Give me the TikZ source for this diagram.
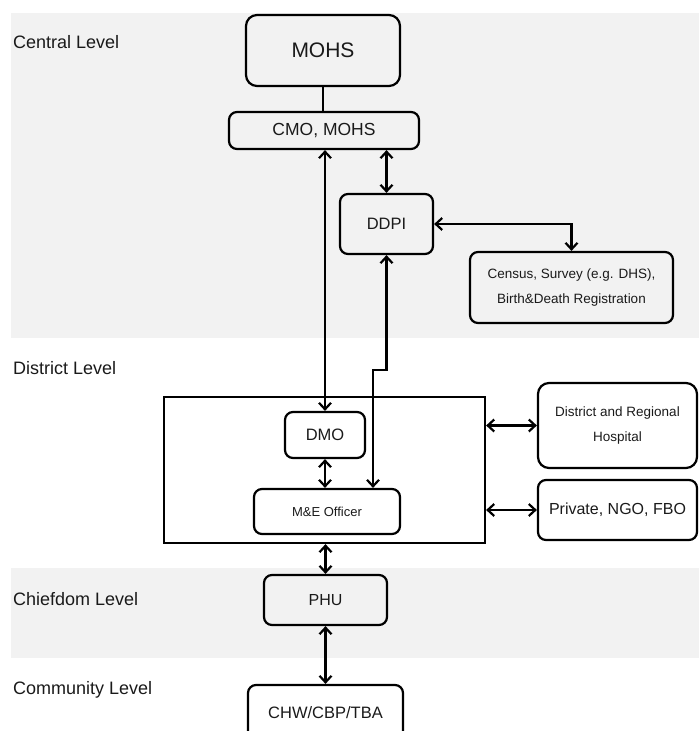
\documentclass[tikz,border=0pt]{standalone}
\usepackage{fontspec}
\setmainfont{Liberation Sans}
\usetikzlibrary{arrows.meta}
\definecolor{band}{HTML}{F2F2F2}
\definecolor{ink}{HTML}{1A1A1A}
\begin{document}
\begin{tikzpicture}[x=1pt,y=-1pt,
  box/.style={draw=black, line width=2.2pt, rounded corners=8pt, align=center, text=ink, inner sep=0pt},
  dbl/.style={{Straight Barb[length=6.5pt,width=12pt]}-{Straight Barb[length=6.5pt,width=12pt]}, line width=2.2pt},
  plain/.style={line width=2.2pt},
  lvl/.style={anchor=base west, font=\fontsize{18}{20}\selectfont, text=ink, inner sep=0pt}]
\useasboundingbox (0,0) rectangle (699,731);
% bands
\fill[band] (11,13) rectangle (699,338);
\fill[band] (11,568) rectangle (699,658);
% level labels
\node[lvl] (lc) at (13,48) {Central Level};
\node[lvl] (ld) at (13,374) {District Level};
\node[lvl] (lh) at (13,605) {Chiefdom Level};
\node[lvl] (lm) at (13,694) {Community Level};
% nodes
\node[box, rounded corners=11pt, minimum width=154pt, minimum height=71pt, font=\fontsize{21}{24}\selectfont] (mohs) at (323,50.5) {MOHS};
\node[box, minimum width=190pt, minimum height=37pt, font=\fontsize{17.5}{20}\selectfont] (cmo) at (324,130.5) {CMO, MOHS};
\node[box, minimum width=93pt, minimum height=60pt, font=\fontsize{16.5}{20}\selectfont] (ddpi) at (386.5,224) {DDPI};
\node[box, minimum width=203pt, minimum height=71pt, font=\fontsize{13.5}{25}\selectfont] (census) at (571.5,287.5) {Census, Survey (e.g. DHS),\\Birth\&Death Registration};
\node[draw=black, line width=2.2pt, minimum width=321pt, minimum height=146pt, inner sep=0pt] (big) at (324.5,470) {};
\node[box, minimum width=80pt, minimum height=46pt, font=\fontsize{16.5}{20}\selectfont] (dmo) at (325,435) {DMO};
\node[box, minimum width=146pt, minimum height=45pt, font=\fontsize{13}{16}\selectfont] (me) at (327,511.5) {M\&E Officer};
\node[box, rounded corners=11pt, minimum width=159pt, minimum height=85pt, font=\fontsize{13.5}{25}\selectfont] (hosp) at (617.5,425.5) {District and Regional\\Hospital};
\node[box, minimum width=159pt, minimum height=60pt, font=\fontsize{16}{20}\selectfont] (priv) at (617.5,510) {Private, NGO, FBO};
\node[box, minimum width=123pt, minimum height=50pt, font=\fontsize{16}{20}\selectfont] (phu) at (325.5,600) {PHU};
\node[box, minimum width=155pt, minimum height=55pt, font=\fontsize{16.5}{20}\selectfont] (chw) at (325.5,712.5) {CHW/CBP/TBA};
% connectors
\draw[plain] (mohs.south) -- (mohs.south |- cmo.north);
\draw[dbl] (cmo.south -| dmo.north) -- (dmo.north);
\draw[dbl] (ddpi.north |- cmo.south) -- (ddpi.north);
\draw[dbl] (ddpi.east) -| (census.north);
\coordinate (j1) at (386.5,370);
\coordinate (j2) at (373,370);
\draw[dbl] (ddpi.south) -- (j1) -- (j2) -- (j2 |- me.north);
\draw[dbl] (dmo.south) -- (dmo.south |- me.north);
\draw[dbl] (big.east |- hosp.west) -- (hosp.west);
\draw[dbl] (big.east |- priv.west) -- (priv.west);
\draw[dbl] (big.south -| phu.north) -- (phu.north);
\draw[dbl] (phu.south) -- (chw.north);
\end{tikzpicture}
\end{document}
